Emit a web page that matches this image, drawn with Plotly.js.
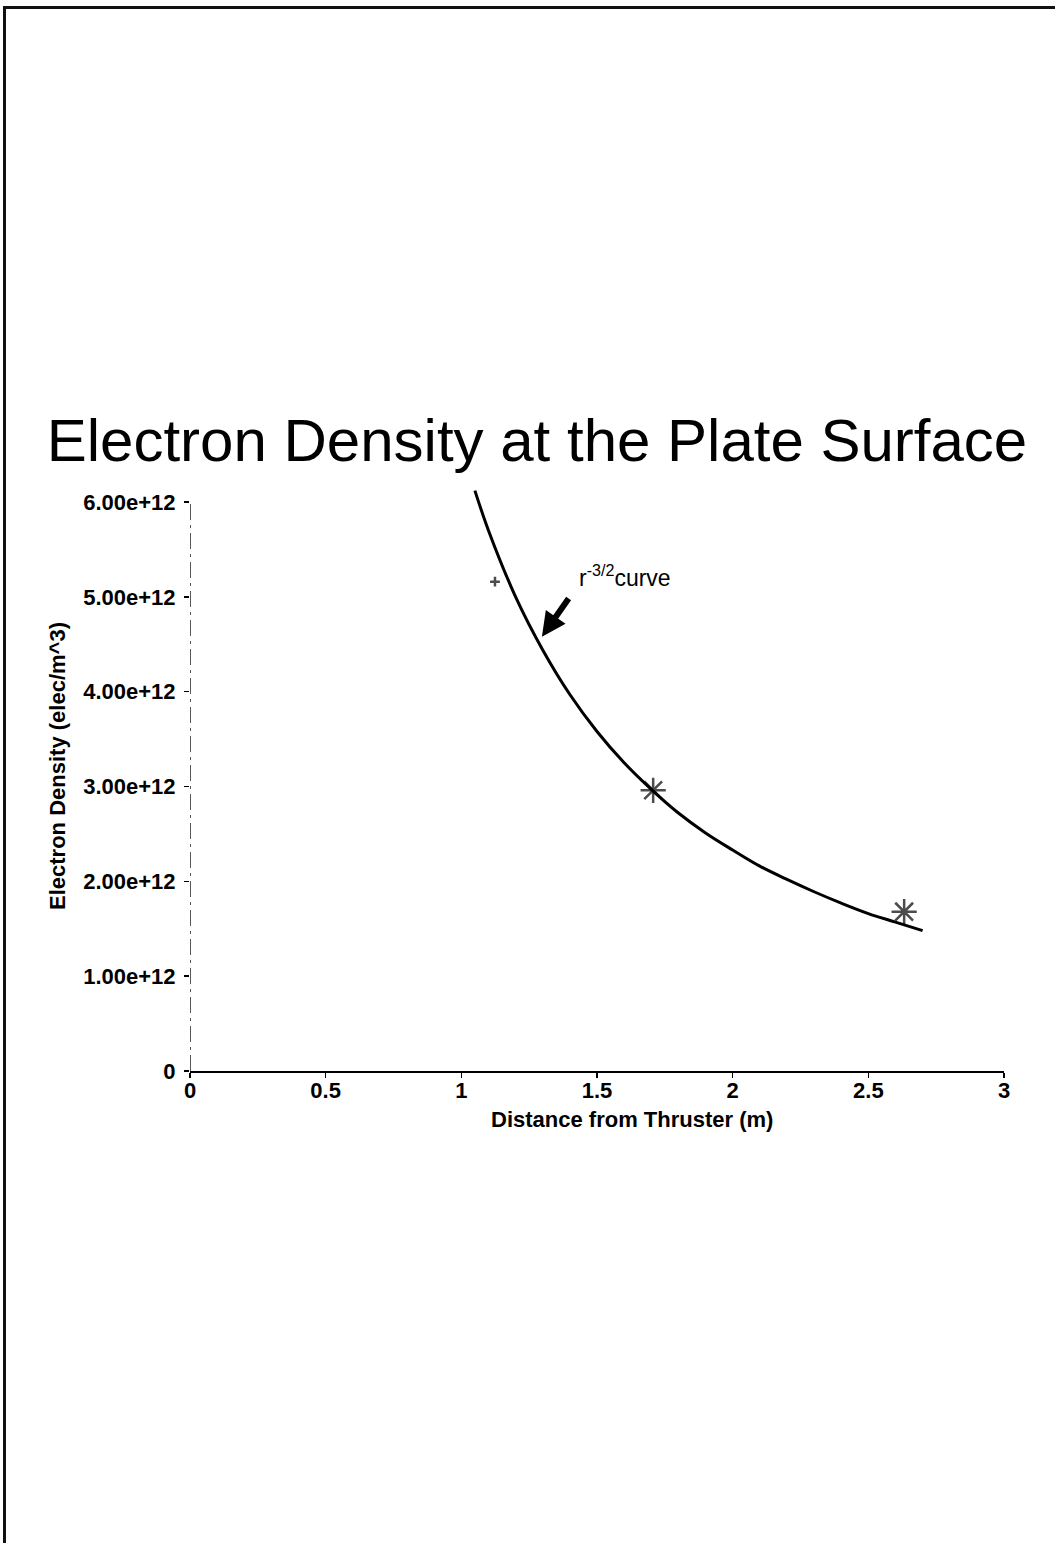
<!DOCTYPE html>
<html>
<head>
<meta charset="utf-8">
<script src="https://cdn.plot.ly/plotly-3.0.1.min.js"></script>
<style>
  html, body { margin: 0; padding: 0; background: #fff; }
  #frame {
    position: absolute; left: 3px; top: 6px;
    width: 1052px; height: 1537px;
    border-top: 3px solid #111; border-left: 3px solid #111;
    box-sizing: border-box;
  }
  #chart { position: absolute; left: 0; top: 0; width: 1055px; height: 1543px; }
</style>
</head>
<body>
<div id="frame"></div>
<div id="chart"></div>
<script>
// r^(-3/2) fit curve: distance (m) and electron density (elec/m^3)
const curveR = [1.05, 1.1, 1.2, 1.3, 1.4, 1.5, 1.6, 1.7, 1.8, 1.9, 2.0, 2.1, 2.2, 2.3, 2.4, 2.5, 2.6, 2.7];
const curveDensity = [6.12e12, 5.70e12, 5.00e12, 4.44e12, 3.97e12, 3.58e12, 3.25e12, 2.97e12, 2.72e12,
                      2.51e12, 2.33e12, 2.16e12, 2.02e12, 1.89e12, 1.77e12, 1.66e12, 1.57e12, 1.48e12];

// measured densities at the plate surface
const measR = [1.124, 1.707, 2.632];
const measDensity = [5.16e12, 2.96e12, 1.68e12];

// axis ticks
const xTicks = [0, 0.5, 1, 1.5, 2, 2.5, 3];
const xTickText = ['0', '0.5', '1', '1.5', '2', '2.5', '3'];
const yTicks = [0, 1e12, 2e12, 3e12, 4e12, 5e12, 6e12];
const yTickText = ['0', '1.00e+12', '2.00e+12', '3.00e+12', '4.00e+12', '5.00e+12', '6.00e+12'];

const FONT = 'Liberation Sans, Arial, Helvetica, sans-serif';
const BOLD = { family: FONT, size: 22, color: '#000', weight: 'bold' };

const traces = [
  {
    x: curveR, y: curveDensity,
    type: 'scatter', mode: 'lines',
    line: { color: '#000', width: 3, shape: 'spline' },
    hoverinfo: 'skip'
  },
  {
    x: measR, y: measDensity,
    type: 'scatter', mode: 'markers',
    cliponaxis: false,
    marker: {
      symbol: ['cross-thin-open', 'asterisk-open', 'asterisk-open'],
      size: [7, 21, 21],
      color: '#000',
      line: { color: '#000', width: 2.5 }
    }
  }
];

const layout = {
  width: 1055, height: 1543,
  paper_bgcolor: 'rgba(0,0,0,0)',
  plot_bgcolor: 'rgba(0,0,0,0)',
  showlegend: false,
  margin: { l: 190, r: 51, t: 483, b: 472, pad: 0 },
  font: { family: FONT, color: '#000', size: 22 },
  title: {
    text: 'Electron Density at the Plate Surface',
    font: { family: FONT, size: 60, color: '#000' },
    x: 0.509, xanchor: 'center', xref: 'container',
    y: 0.715, yanchor: 'middle', yref: 'container'
  },
  xaxis: {
    range: [0, 3],
    tickvals: xTicks, ticktext: xTickText,
    ticks: 'outside', ticklen: 5, tickwidth: 1.5, tickcolor: '#000',
    ticklabelstandoff: -6,
    showline: true, linecolor: '#000', linewidth: 2,
    showgrid: false, zeroline: false,
    tickfont: BOLD
  },
  yaxis: {
    range: [0, 6.2e12],
    tickvals: yTicks, ticktext: yTickText,
    ticks: 'outside', ticklen: 5, tickwidth: 1.5, tickcolor: '#000',
    ticklabelstandoff: 4,
    showline: false, showgrid: false, zeroline: false,
    tickfont: BOLD
  },
  shapes: [
    {
      type: 'line', xref: 'x', yref: 'y',
      x0: 0, x1: 0, y0: 0, y1: 6e12,
      line: { color: '#222', width: 1.5, dash: '16px,5px,3px,5px' }
    }
  ],
  annotations: [
    {
      text: 'Distance from Thruster (m)',
      xref: 'paper', yref: 'paper', x: 0.543, y: -0.083,
      xanchor: 'center', yanchor: 'middle', showarrow: false,
      font: BOLD
    },
    {
      text: 'Electron Density (elec/m^3)',
      xref: 'paper', yref: 'paper', x: -0.162, y: 0.519,
      xanchor: 'center', yanchor: 'middle', showarrow: false, textangle: -90,
      font: BOLD
    },
    {
      text: 'r<sup>-3/2</sup>curve',
      xref: 'x', yref: 'y', x: 1.603, y: 5.22e12,
      xanchor: 'center', yanchor: 'middle', showarrow: false,
      font: { family: FONT, size: 23, color: '#000' }
    },
    {
      text: ' ',
      xref: 'x', yref: 'y', x: 1.297, y: 4.58e12,
      axref: 'x', ayref: 'y', ax: 1.412, ay: 5.05e12,
      showarrow: true, arrowhead: 2, arrowsize: 0.8, arrowwidth: 6, arrowcolor: '#000'
    }
  ]
};

Plotly.newPlot('chart', traces, layout, { staticPlot: true, displayModeBar: false });
</script>
</body>
</html>
